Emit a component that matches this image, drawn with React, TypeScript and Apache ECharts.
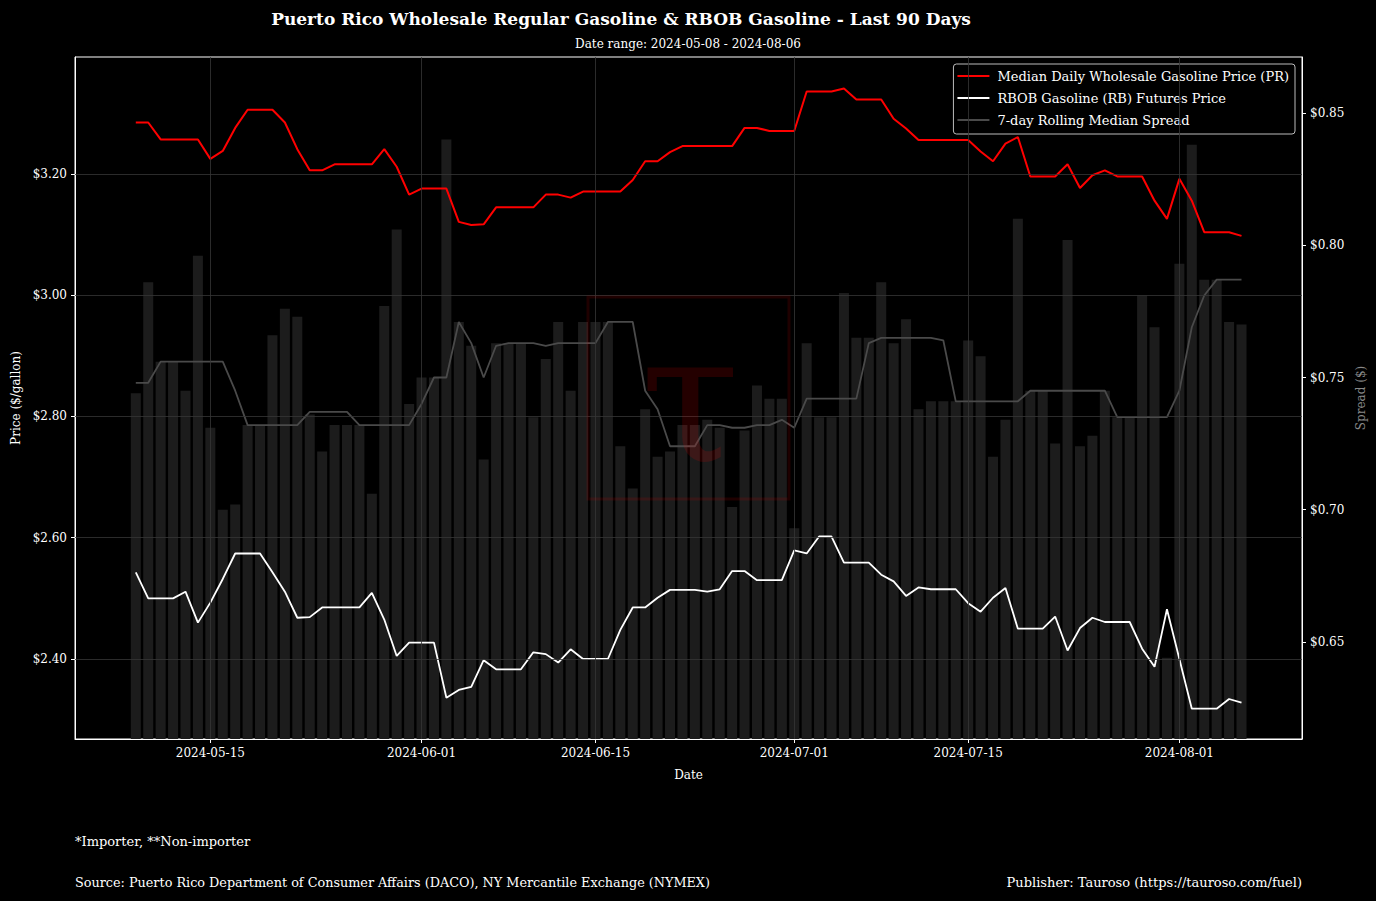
import React, { useEffect, useRef } from 'react';
import * as echarts from 'echarts';

const START_DATE = '2024-05-09';

const prPrice = [
  3.285, 3.285, 3.257, 3.257, 3.257, 3.257, 3.225, 3.238, 3.276, 3.306,
  3.306, 3.306, 3.285, 3.241, 3.206, 3.206, 3.216, 3.216, 3.216, 3.216,
  3.241, 3.212, 3.166, 3.176, 3.176, 3.176, 3.121, 3.116, 3.117, 3.145,
  3.145, 3.145, 3.145, 3.166, 3.166, 3.161, 3.171, 3.171, 3.171, 3.171,
  3.190, 3.221, 3.221, 3.236, 3.246, 3.246, 3.246, 3.246, 3.246, 3.276,
  3.276, 3.271, 3.271, 3.271, 3.336, 3.336, 3.336, 3.341, 3.323, 3.323,
  3.323, 3.291, 3.275, 3.256, 3.256, 3.256, 3.256, 3.256, 3.237, 3.221,
  3.250, 3.261, 3.196, 3.196, 3.196, 3.216, 3.177, 3.198, 3.206, 3.196,
  3.196, 3.196, 3.156, 3.126, 3.192, 3.156, 3.104, 3.104, 3.104, 3.098,
];

const rbPrice = [
  2.543, 2.500, 2.500, 2.500, 2.511, 2.460, 2.493, 2.532, 2.574, 2.574,
  2.574, 2.543, 2.511, 2.468, 2.469, 2.485, 2.485, 2.485, 2.485, 2.509,
  2.465, 2.405, 2.427, 2.427, 2.427, 2.336, 2.349, 2.354, 2.398, 2.383,
  2.383, 2.383, 2.411, 2.408, 2.394, 2.416, 2.400, 2.400, 2.400, 2.448,
  2.485, 2.485, 2.501, 2.514, 2.514, 2.514, 2.511, 2.515, 2.545, 2.545,
  2.530, 2.530, 2.530, 2.579, 2.574, 2.602, 2.602, 2.559, 2.559, 2.559,
  2.539, 2.528, 2.504, 2.518, 2.515, 2.515, 2.515, 2.492, 2.478, 2.501,
  2.517, 2.450, 2.450, 2.450, 2.470, 2.414, 2.451, 2.468, 2.461, 2.461,
  2.461, 2.417, 2.387, 2.482, 2.400, 2.318, 2.318, 2.318, 2.334, 2.328,
];

const spread = [
  0.744, 0.786, 0.756, 0.756, 0.745, 0.796, 0.731, 0.700, 0.702, 0.732,
  0.732, 0.766, 0.776, 0.773, 0.736, 0.722, 0.732, 0.732, 0.732, 0.706,
  0.777, 0.806, 0.740, 0.750, 0.750, 0.840, 0.771, 0.762, 0.719, 0.763,
  0.763, 0.763, 0.735, 0.757, 0.771, 0.745, 0.771, 0.771, 0.771, 0.724,
  0.708, 0.738, 0.720, 0.722, 0.732, 0.732, 0.734, 0.731, 0.701, 0.730,
  0.747, 0.742, 0.742, 0.693, 0.763, 0.735, 0.735, 0.782, 0.765, 0.765,
  0.786, 0.763, 0.772, 0.738, 0.741, 0.741, 0.741, 0.764, 0.758, 0.720,
  0.734, 0.810, 0.745, 0.745, 0.725, 0.802, 0.724, 0.728, 0.745, 0.735,
  0.735, 0.781, 0.769, 0.644, 0.793, 0.838, 0.787, 0.787, 0.771, 0.770,
];

const rollingSpread = [
  0.748, 0.748, 0.756, 0.756, 0.756, 0.756, 0.756, 0.756, 0.745, 0.732,
  0.732, 0.732, 0.732, 0.732, 0.737, 0.737, 0.737, 0.737, 0.732, 0.732,
  0.732, 0.732, 0.732, 0.740, 0.750, 0.750, 0.771, 0.763, 0.750, 0.762,
  0.763, 0.763, 0.763, 0.762, 0.763, 0.763, 0.763, 0.763, 0.771, 0.771,
  0.771, 0.745, 0.738, 0.724, 0.724, 0.724, 0.732, 0.732, 0.731, 0.731,
  0.732, 0.732, 0.734, 0.731, 0.742, 0.742, 0.742, 0.742, 0.742, 0.763,
  0.765, 0.765, 0.765, 0.765, 0.765, 0.764, 0.741, 0.741, 0.741, 0.741,
  0.741, 0.741, 0.745, 0.745, 0.745, 0.745, 0.745, 0.745, 0.745, 0.735,
  0.735, 0.735, 0.735, 0.735, 0.745, 0.769, 0.781, 0.787, 0.787, 0.787,
];

const xTickDates = ['2024-05-15', '2024-06-01', '2024-06-15', '2024-07-01', '2024-07-15', '2024-08-01'];
const leftTicks = [2.4, 2.6, 2.8, 3.0, 3.2];
const rightTicks = [0.65, 0.7, 0.75, 0.8, 0.85];

const TITLE = 'Puerto Rico Wholesale Regular Gasoline & RBOB Gasoline - Last 90 Days';
const SUBTITLE = 'Date range: 2024-05-08 - 2024-08-06';
const NOTE = '*Importer, **Non-importer';
const SOURCE = 'Source: Puerto Rico Department of Consumer Affairs (DACO), NY Mercantile Exchange (NYMEX)';
const PUBLISHER = 'Publisher: Tauroso (https://tauroso.com/fuel)';
const LEGEND_PR = 'Median Daily Wholesale Gasoline Price (PR)';
const LEGEND_RB = 'RBOB Gasoline (RB) Futures Price';
const LEGEND_ROLL = '7-day Rolling Median Spread';

const FONT = '"DejaVu Serif", serif';
const DAY = 86400000;

const toUTC = (s: string) => {
  const [y, m, d] = s.split('-').map(Number);
  return Date.UTC(y, m - 1, d);
};
const T0 = toUTC(START_DATE);
// day offset from the first date
const dayOf = (s: string) => Math.round((toUTC(s) - T0) / DAY);
const fmtDay = (off: number) => {
  const d = new Date(T0 + Math.round(off) * DAY);
  return `${d.getUTCFullYear()}-${String(d.getUTCMonth() + 1).padStart(2, '0')}-${String(d.getUTCDate()).padStart(2, '0')}`;
};

export default function App() {
  const ref = useRef<HTMLDivElement>(null);
  useEffect(() => {
    document.body.style.margin = '0';
    document.body.style.background = '#000';
    const chart = echarts.init(ref.current!, null, { renderer: 'svg' });
    const xs = prPrice.map((_, i) => i);
    const xTicks = xTickDates.map(dayOf);
    const gridLine = { color: '#363636', width: 0.8, type: 'solid' as const };

    chart.setOption({
      animation: false,
      backgroundColor: '#000',
      textStyle: { fontFamily: FONT },
      graphic: [
        { type: 'text', x: 621, y: 19, style: { text: TITLE, fill: '#fff', font: `bold 17px ${FONT}`, textAlign: 'center', textVerticalAlign: 'middle' } },
        { type: 'text', x: 688, y: 44, style: { text: SUBTITLE, fill: '#fff', font: `12px ${FONT}`, textAlign: 'center', textVerticalAlign: 'middle' } },
        { type: 'text', x: 75, y: 841, style: { text: NOTE, fill: '#fff', font: `13px ${FONT}`, textAlign: 'left', textVerticalAlign: 'middle' } },
        { type: 'text', x: 75, y: 882, style: { text: SOURCE, fill: '#fff', font: `12.8px ${FONT}`, textAlign: 'left', textVerticalAlign: 'middle' } },
        { type: 'text', x: 1302, y: 882, style: { text: PUBLISHER, fill: '#fff', font: `13px ${FONT}`, textAlign: 'right', textVerticalAlign: 'middle' } },
        { type: 'rect', z: 100, silent: true, shape: { x: 588, y: 297, width: 201, height: 202 }, style: { fill: 'none', stroke: 'rgba(255,0,0,0.12)', lineWidth: 3 } },
        { type: 'text', z: 100, silent: true, x: 690, y: 398, style: { text: 'τ', fill: 'rgba(255,0,0,0.14)', font: `180px ${FONT}`, textAlign: 'center', textVerticalAlign: 'middle' } },
      ],
      legend: {
        orient: 'vertical',
        right: 81,
        top: 64,
        backgroundColor: '#000',
        borderColor: '#bbb',
        borderWidth: 1,
        borderRadius: 3,
        padding: [5, 6, 7, 4],
        itemGap: 8,
        itemWidth: 32,
        itemHeight: 2,
        icon: 'rect',
        textStyle: { color: '#fff', fontSize: 13, fontFamily: FONT, lineHeight: 14, padding: [0, 0, 0, 3] },
        data: [LEGEND_PR, LEGEND_RB, LEGEND_ROLL],
      },
      grid: { left: 75, right: 74, top: 57, bottom: 162, show: true, borderColor: '#fff', borderWidth: 1, backgroundColor: '#000' },
      xAxis: {
        type: 'value',
        min: -4.894,
        max: 93.87,
        axisLine: { show: true, onZero: false, lineStyle: { color: '#fff' } },
        axisTick: { show: true, customValues: xTicks, length: 4, lineStyle: { color: '#fff' } },
        axisLabel: { customValues: xTicks, formatter: (v: number) => fmtDay(v), color: '#fff', fontSize: 12, margin: 8, fontFamily: FONT },
        splitLine: { show: false },
        name: 'Date',
        nameLocation: 'middle',
        nameGap: 30,
        nameTextStyle: { color: '#fff', fontSize: 12, fontFamily: FONT },
      },
      yAxis: [
        {
          type: 'value',
          position: 'left',
          min: 2.268,
          max: 3.393,
          axisLine: { show: true, onZero: false, lineStyle: { color: '#fff' } },
          axisTick: { show: true, customValues: leftTicks, length: 4, lineStyle: { color: '#fff' } },
          axisLabel: { customValues: leftTicks, formatter: (v: number) => '$' + v.toFixed(2), color: '#fff', fontSize: 12, margin: 8, fontFamily: FONT },
          splitLine: { show: false },
          name: 'Price ($/gallon)',
          nameLocation: 'middle',
          nameRotate: 90,
          nameGap: 52,
          nameTextStyle: { color: '#fff', fontSize: 12, fontFamily: FONT },
        },
        {
          type: 'value',
          position: 'right',
          min: 0.6133,
          max: 0.8712,
          axisLine: { show: true, onZero: false, lineStyle: { color: '#fff' } },
          axisTick: { show: true, customValues: rightTicks, length: 4, lineStyle: { color: '#fff' } },
          axisLabel: { customValues: rightTicks, formatter: (v: number) => '$' + v.toFixed(2), color: '#fff', fontSize: 12, margin: 8, fontFamily: FONT },
          splitLine: { show: false },
          name: 'Spread ($)',
          nameLocation: 'middle',
          nameRotate: 90,
          nameGap: 50,
          nameTextStyle: { color: '#888', fontSize: 12, fontFamily: FONT },
        },
      ],
      series: [
        {
          type: 'bar',
          name: 'Spread',
          yAxisIndex: 1,
          barWidth: 10,
          itemStyle: { color: '#1c1c1c' },
          data: xs.map((x, i) => [x, spread[i]]),
          markLine: {
            silent: true,
            symbol: ['none', 'none'],
            label: { show: false },
            lineStyle: gridLine,
            data: xTicks.map((t) => ({ xAxis: t })),
          },
        },
        {
          type: 'line',
          name: LEGEND_ROLL,
          yAxisIndex: 1,
          showSymbol: false,
          lineStyle: { color: '#4a4a4a', width: 1.8 },
          itemStyle: { color: '#4a4a4a' },
          data: xs.map((x, i) => [x, rollingSpread[i]]),
        },
        {
          type: 'line',
          name: LEGEND_PR,
          yAxisIndex: 0,
          showSymbol: false,
          lineStyle: { color: '#ff0000', width: 2 },
          itemStyle: { color: '#ff0000' },
          data: xs.map((x, i) => [x, prPrice[i]]),
          markLine: {
            silent: true,
            symbol: ['none', 'none'],
            label: { show: false },
            lineStyle: gridLine,
            data: leftTicks.map((v) => ({ yAxis: v })),
          },
        },
        {
          type: 'line',
          name: LEGEND_RB,
          yAxisIndex: 0,
          showSymbol: false,
          lineStyle: { color: '#ffffff', width: 1.8 },
          itemStyle: { color: '#ffffff' },
          data: xs.map((x, i) => [x, rbPrice[i]]),
        },
      ],
    });
    return () => chart.dispose();
  }, []);
  return <div ref={ref} style={{ position: 'absolute', left: 0, top: 0, width: 1376, height: 901, background: '#000' }} />;
}
